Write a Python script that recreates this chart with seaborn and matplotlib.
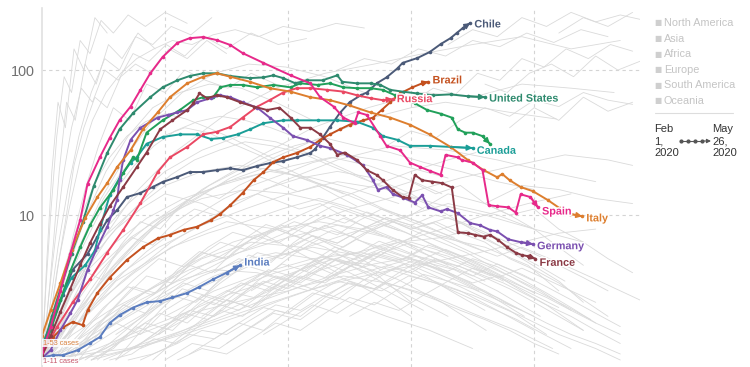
import matplotlib
matplotlib.use("Agg")
import matplotlib.pyplot as plt
import matplotlib.patheffects as pe
from matplotlib.lines import Line2D
from matplotlib.ticker import NullLocator
import pandas as pd
import seaborn as sns

sns.set_theme(style="white")
plt.rcParams["font.family"] = ["Liberation Sans", "DejaVu Sans"]

# x: position along the trajectory (arbitrary units, no tick labels)
# y: new daily cases per million (log scale)
spain_x = [0, 7, 15, 23, 31, 37, 47, 55, 63, 72, 80, 88, 98, 110, 120, 131, 142, 153, 163, 180, 202, 218, 226,
           237, 245, 254, 257, 264, 275, 280, 291, 299, 307, 315, 324, 328, 338, 341, 350, 358, 363, 370, 379, 385,
           389, 397, 403]
spain_y = [1.13, 1.68, 3.0, 5.4, 9.2, 16.4, 25, 34, 45, 56, 73, 95, 123, 154, 166, 169, 161, 149, 131, 112, 92, 81,
           65, 56, 47, 43, 51, 49, 35, 30, 28, 23, 21.5, 20.2, 18.9, 26, 25, 24, 23, 20.4, 11.7, 11.5, 11.3, 10.4,
           13.9, 13.3, 11.3]

italy_x = [0, 7, 15, 24, 35, 45, 53, 61, 72, 82, 94, 104, 118, 131, 142, 153, 169, 185, 202, 218, 234, 250, 267,
           283, 299, 315, 332, 346, 359, 370, 374, 380, 389, 399, 411, 421, 429, 439]
italy_y = [1.47, 2.2, 3.4, 5.7, 9.5, 13.3, 16.6, 21.4, 28, 39, 51, 65, 81, 90, 95, 90, 83, 75, 71, 65, 62, 57, 51,
           47, 42, 36, 29.5, 24, 20.4, 18.2, 19.2, 17.4, 15.6, 14.6, 12.7, 11.1, 10.2, 9.8]

us_x = [0, 8, 16, 24, 33, 42, 53, 63, 74, 88, 98, 110, 120, 131, 142, 153, 169, 180, 188, 196, 206, 215, 228, 240,
        244, 256, 267, 275, 283, 293, 305, 318, 332, 346, 360]
us_y = [1.17, 2.0, 3.3, 5.4, 8.9, 15.8, 26.8, 39, 50.5, 65, 76, 85, 91, 95, 95, 91, 88, 89, 92, 88, 81, 85, 85, 92,
        83, 81, 81, 79, 73, 71, 69, 67, 68, 66, 65]

uk_x = [0, 7, 15, 23, 31, 39, 47, 58, 66, 74, 77, 85, 98, 112, 123, 131, 139, 145, 153, 163, 175, 188, 202, 210,
        224, 234, 245, 256, 267, 277, 287, 295, 303, 313, 324, 333, 338, 344, 350, 358, 364]
uk_y = [1.13, 1.61, 2.6, 4.1, 6.0, 8.5, 11.2, 14.9, 19.5, 25, 24, 37, 45, 53, 62, 65, 65, 76, 79, 79, 76, 79, 76,
        81, 79, 81, 76, 75, 75, 73, 67, 62, 59, 53, 50, 47, 39, 37, 37, 35, 31]

canada_x = [0, 7, 15, 24, 35, 43, 47, 55, 63, 72, 77, 85, 98, 112, 126, 137, 147, 159, 169, 180, 196, 207, 224,
            240, 256, 269, 277, 289, 299, 315, 332, 350]
canada_y = [1.27, 1.74, 2.6, 3.7, 4.5, 5.7, 7.9, 13.7, 18, 23, 25, 31, 34.5, 36, 36, 33.5, 34, 36, 39, 43, 45, 45,
            45, 45, 44, 40, 35, 33, 30, 30, 29.5, 29]

germany_x = [0, 7, 15, 23, 29, 37, 45, 53, 58, 61, 63, 66, 72, 80, 94, 102, 110, 118, 126, 137, 145, 153, 163, 175,
             185, 196, 204, 215, 226, 234, 248, 261, 269, 273, 280, 285, 293, 303, 309, 314, 324, 329, 338, 348,
             356, 364, 370, 379, 389, 399]
germany_y = [1.03, 1.17, 1.61, 2.1, 2.6, 4.2, 6.0, 8.3, 10.8, 12.7, 17.4, 24, 33, 40, 47, 49, 51, 53, 60, 64, 67,
             65, 60, 55, 47, 40, 35, 33, 30, 29, 26, 22, 17.4, 14.9, 15.6, 14, 13.2, 12.2, 13.7, 11.3, 10.6, 11,
             10.3, 8.8, 8.5, 7.9, 7.7, 6.8, 6.5, 6.3]

france_x = [0, 7, 15, 23, 31, 39, 47, 55, 66, 77, 85, 96, 106, 118, 123, 128, 134, 142, 150, 161, 172, 183, 193,
            202, 210, 218, 226, 234, 240, 246, 256, 264, 272, 277, 285, 293, 298, 303, 309, 317, 325, 333, 338,
            346, 352, 359, 364, 371, 378, 385, 390, 395, 401]
france_y = [1.07, 1.47, 2.15, 3.1, 4.5, 6.4, 8.7, 11.5, 15.6, 21.4, 27, 39, 45, 53, 59, 69, 64, 67, 65, 60, 56, 53,
            55, 47, 40, 40, 36, 31, 26, 27, 24, 20.4, 18.9, 17.4, 14.9, 13.3, 13.1, 18.9, 17.4, 17, 16.6, 15.5, 7.6,
            7.5, 7.3, 7.1, 7.3, 6.7, 6.0, 5.5, 5.3, 5.2, 5.0]

russia_x = [0, 12, 25, 39, 53, 66, 80, 94, 104, 118, 131, 142, 153, 163, 175, 185, 196, 207, 218, 232, 245, 256,
            267, 277, 285]
russia_y = [1.08, 1.68, 2.5, 3.6, 5.5, 7.9, 12.1, 19.8, 25, 29.5, 36, 37.5, 40.5, 47, 56, 62, 70, 75, 75, 73, 71,
            67, 64, 62, 63]

chile_x = [0, 8, 17, 25, 37, 45, 53, 61, 69, 80, 90, 98, 110, 120, 131, 142, 153, 163, 175, 185, 196, 207, 218,
           222, 228, 234, 242, 250, 259, 264, 272, 280, 289, 293, 305, 315, 324, 332, 337, 342, 348]
chile_y = [1.07, 1.74, 2.8, 4.2, 5.4, 7.1, 9.2, 10.8, 13.3, 14.2, 15.6, 16.9, 18.3, 19.8, 19.8, 20.4, 21, 20.4,
           21.8, 22.8, 23.6, 25, 26.8, 28.5, 34, 40.5, 50.5, 60, 67, 70, 81, 89, 103, 112, 121, 133, 151, 166, 180,
           195, 211]

brazil_x = [0, 9, 17, 25, 33, 37, 45, 55, 69, 82, 94, 104, 115, 126, 137, 145, 153, 163, 172, 180, 188, 196, 207,
            218, 226, 234, 242, 250, 261, 269, 276, 283, 291, 301, 309, 314]
brazil_y = [1.27, 1.44, 1.68, 1.83, 1.74, 2.2, 2.9, 3.7, 4.9, 6.0, 6.9, 7.3, 7.9, 8.3, 9.2, 10.2, 11.7, 14.2, 17.4,
            19.8, 23.2, 25, 26.8, 29.5, 33, 36, 39, 42, 45, 47, 53, 60, 69, 76, 81, 83]

india_x = [2, 9, 17, 29, 39, 47, 55, 63, 74, 85, 96, 106, 118, 128, 139, 150, 161]
india_y = [1.05, 1.08, 1.08, 1.17, 1.31, 1.44, 1.8, 2.04, 2.3, 2.5, 2.55, 2.7, 2.9, 3.2, 3.6, 4.0, 4.5]

# all other countries, drawn in light grey
gray_x = [
    [0, 4, 9, 14, 20, 27, 35, 44, 54, 65, 78, 92],
    [0, 3, 7, 12, 18, 24, 31, 39, 48, 58, 70, 84, 100, 118],
    [0, 6, 12, 19, 26, 34, 43, 53, 64, 76, 89, 103, 118, 134, 150],
    [0, 5, 11, 17, 24, 32, 41, 51, 62, 74, 87, 101, 116, 132, 150, 170, 192, 215],
    [0, 8, 16, 25, 35, 46, 58, 71, 85, 100, 116, 133, 151, 170, 190],
    [0, 4, 8, 13, 19, 26, 34, 43, 53],
    [0, 7, 14, 22, 31, 41, 52, 64, 77, 91, 106, 122, 139, 157, 176, 196, 217, 239, 262],
    [0, 6, 13, 21, 30, 40, 51, 63, 76, 90, 105, 121, 138],
    [0, 10, 21, 33, 46, 60, 75, 91, 108, 126, 145, 165, 186, 208, 231, 255],
    [0, 12, 25, 39, 54, 70, 87, 105, 124, 144, 165, 187, 210, 234, 259, 285, 312],
    [5, 18, 32, 47, 63, 80, 98, 117, 137, 158, 180, 203, 227, 252, 278, 305, 333, 362],
    [0, 9, 19, 30, 42, 55, 69, 84, 100, 117, 135, 154, 174, 195],
    [0, 15, 31, 48, 66, 85, 105, 126, 148, 171, 195, 220, 246, 273, 301, 330],
    [10, 25, 41, 58, 76, 95, 115, 136, 158, 181, 205, 230, 256, 283, 311, 340, 370, 400],
    [0, 11, 23, 36, 50, 65, 81, 98, 116, 135, 155, 176, 198, 221, 245],
    [0, 13, 27, 42, 58, 75, 93, 112, 132, 153, 175, 198, 222, 247, 273, 300, 328, 357, 387, 418],
    [20, 40, 60, 80, 100, 120, 140, 160, 180, 200, 220, 240, 260, 280, 300],
    [30, 52, 74, 96, 118, 140, 162, 184, 206, 228, 250, 272, 294, 316, 338, 360],
    [10, 30, 50, 70, 90, 110, 130, 150, 170, 190, 210, 230, 250, 270, 290, 310, 330],
    [40, 62, 84, 106, 128, 150, 172, 194, 216, 238, 260, 282, 304, 326, 348, 370, 392],
    [60, 80, 100, 120, 140, 160, 180, 200, 220, 240, 260, 280, 300, 320, 340, 360, 380, 400, 420],
    [25, 45, 65, 85, 105, 125, 145, 165, 185, 205, 225, 245, 265, 285, 305],
    [50, 72, 94, 116, 138, 160, 182, 204, 226, 248, 270, 292, 314, 336, 358, 380, 402, 424, 446],
    [15, 35, 55, 75, 95, 115, 135, 155, 175, 195, 215, 235, 255, 275],
    [80, 100, 120, 140, 160, 180, 200, 220, 240, 260, 280, 300, 320, 340, 360, 380, 400],
    [35, 55, 75, 95, 115, 135, 155, 175, 195, 215, 235, 255, 275, 295, 315, 335, 355, 375],
    [100, 122, 144, 166, 188, 210, 232, 254, 276, 298, 320, 342, 364, 386, 408, 430],
    [5, 22, 39, 56, 73, 90, 107, 124, 141, 158, 175, 192, 209, 226, 243, 260, 277],
    [45, 65, 85, 105, 125, 145, 165, 185, 205, 225, 245, 265, 285, 305, 325, 345, 365, 385, 405, 425],
    [70, 90, 110, 130, 150, 170, 190, 210, 230, 250, 270, 290, 310, 330, 350, 370, 390, 410, 430, 450],
    [120, 140, 160, 180, 200, 220, 240, 260, 280, 300, 320, 340, 360, 380, 400, 420, 440],
    [30, 48, 66, 84, 102, 120, 138, 156, 174, 192, 210, 228, 246, 264, 282, 300, 318, 336],
    [90, 110, 130, 150, 170, 190, 210, 230, 250, 270, 290, 310, 330, 350, 370, 390],
    [150, 170, 190, 210, 230, 250, 270, 290, 310, 330, 350, 370, 390, 410, 430, 450, 470],
    [60, 78, 96, 114, 132, 150, 168, 186, 204, 222, 240, 258, 276, 294, 312, 330, 348, 366, 384],
    [0, 16, 32, 48, 64, 80, 96, 112, 128, 144, 160, 176, 192, 208, 224, 240, 256],
    [110, 130, 150, 170, 190, 210, 230, 250, 270, 290, 310, 330, 350, 370, 390, 410, 430, 450, 470],
    [40, 58, 76, 94, 112, 130, 148, 166, 184, 202, 220, 238, 256, 274, 292, 310, 328, 346, 364, 382, 400],
    [130, 150, 170, 190, 210, 230, 250, 270, 290, 310, 330, 350, 370, 390, 410, 430, 450],
    [20, 38, 56, 74, 92, 110, 128, 146, 164, 182, 200, 218, 236, 254, 272, 290],
    [170, 190, 210, 230, 250, 270, 290, 310, 330, 350, 370, 390, 410, 430, 450, 470, 490],
    [200, 220, 240, 260, 280, 300, 320, 340, 360, 380, 400, 420, 440, 460],
    [140, 160, 180, 200, 220, 240, 260, 280, 300, 320, 340, 360, 380, 400],
    [55, 73, 91, 109, 127, 145, 163, 181, 199, 217, 235, 253, 271, 289, 307, 325, 343, 361],
    [250, 270, 290, 310, 330, 350, 370, 390, 410, 430, 450, 470],
    [180, 200, 220, 240, 260, 280, 300, 320, 340, 360, 380, 400, 420],
    [75, 95, 115, 135, 155, 175, 195, 215, 235, 255, 275, 295, 315, 335, 355],
    [95, 115, 135, 155, 175, 195, 215, 235, 255, 275, 295, 315, 335],
    [300, 318, 336, 354, 372, 390, 408, 426, 444, 462, 480],
    [330, 350, 370, 390, 410, 430, 450, 470, 490],
    [280, 300, 320, 340, 360, 380, 400, 420, 440, 460, 480],
    [360, 378, 396, 414, 432, 450, 468, 486],
    [240, 262, 284, 306, 328, 350, 372, 394, 416, 438, 460],
    [380, 400, 420, 440, 460, 480],
    [420, 440, 460, 480],
    [300, 320, 340, 360, 380, 400, 420, 440, 460],
    [330, 350, 370, 390, 410, 430, 450, 470],
    [360, 380, 400, 420, 440, 460, 480],
    [280, 300, 320, 340, 360, 380, 400, 420, 440],
    [0, 10, 25, 40, 60, 80, 100, 130, 160, 200, 240],
    [0, 15, 35, 60, 90, 120, 150, 190, 230, 270, 300],
    [0, 20, 45, 70, 100, 130, 170, 210, 250, 290, 330],
    [0, 25, 55, 85, 120, 160, 200, 240, 280, 320, 360],
    [0, 30, 60, 95, 130, 170, 210, 250, 290, 330, 370, 400],
    [0, 20, 40, 65, 90, 120, 150, 185, 220, 255, 290],
    [5, 30, 60, 90, 120, 150, 180, 210, 240, 270, 300, 330, 360],
    [10, 40, 70, 100, 130, 160, 190, 220, 250, 280, 310],
    [0, 10, 25, 45, 70, 100, 130, 160, 190, 220, 250, 280, 310],
    [0, 12, 28, 48, 72, 100, 130, 165, 200, 235, 270, 305, 340, 375],
    [15, 45, 80, 115, 150, 185, 220, 255, 290, 325, 360, 395, 420],
    [20, 55, 90, 125, 160, 195, 230, 265, 300, 335, 370, 405],
    [0, 20, 45, 75, 105, 135, 165, 195, 225, 255, 285, 315, 345, 375, 405, 430],
    [30, 60, 95, 130, 165, 200, 235, 270, 305, 340, 375, 410, 440],
    [0, 15, 35, 60, 85, 115, 145, 175, 205, 235, 265, 295, 325],
    [0, 10, 22, 36, 52, 70, 90, 112, 136, 162, 190, 220],
    [0, 20, 45, 75, 110, 150, 190, 230, 270, 310, 350, 390, 430, 470],
    [0, 25, 55, 90, 130, 175, 220, 265, 310, 350, 390, 430, 465],
    [0, 30, 65, 105, 150, 195, 240, 285, 330, 370, 410, 450],
    [10, 40, 75, 115, 160, 205, 250, 295, 340, 385, 425, 460, 480],
    [150, 190, 230, 270, 310, 350, 390, 420, 450, 470],
    [100, 140, 180, 220, 260, 300, 340, 380, 410],
    [60, 100, 140, 180, 220, 260, 300, 340, 370, 400],
    [20, 50, 85, 120, 155, 190, 225, 260, 295, 330, 365],
    [0, 15, 30, 50, 75, 100, 130, 160, 195, 230, 265, 300, 335],
    [0, 18, 40, 65, 95, 130, 165, 200, 240, 280, 320, 360, 400, 440],
    [0, 14, 30, 48, 68, 90, 114, 140, 168, 198, 230, 262],
    [40, 75, 110, 145, 180, 215, 250, 285, 320, 355, 390, 420, 450],
    [80, 115, 150, 185, 220, 255, 290, 325, 360, 395, 430],
    [0, 25, 50, 80, 110, 140, 175, 210, 245, 280, 315, 350],
    [0, 35, 70, 105, 140, 175, 210, 245, 280, 315, 350, 385, 415],
    [270, 300, 330, 360, 390, 420, 450, 480],
    [180, 210, 240, 270, 300, 330, 360, 390, 420, 440],
]
gray_y = [
    [1, 2, 6, 20, 60, 45, 110, 80, 150, 120, 180, 140],
    [1, 3, 10, 35, 90, 70, 160, 130, 220, 180, 240, 200, 250, 210],
    [1, 1.8, 4, 9, 22, 40, 65, 55, 90, 110, 95, 140, 120, 160, 130],
    [1, 2.5, 7, 18, 40, 75, 60, 100, 85, 130, 115, 150, 125, 170, 140, 180, 150, 165],
    [1, 1.5, 3, 7, 15, 30, 55, 45, 80, 70, 100, 85, 75, 95, 80],
    [1, 5, 20, 60, 40, 140, 100, 230, 180],
    [1, 2, 5, 11, 24, 45, 70, 95, 120, 140, 160, 150, 175, 190, 170, 200, 185, 210, 195],
    [1, 2.2, 6, 15, 35, 70, 120, 100, 170, 150, 200, 175, 230],
    [1, 1.8, 3.5, 6, 10, 15, 22, 30, 38, 44, 48, 45, 40, 34, 29, 24],
    [1, 1.5, 2.6, 4.5, 7, 10, 14, 19, 24, 28, 32, 30, 27, 22, 18, 15, 12],
    [1, 1.4, 2.2, 3.5, 5, 7, 9.5, 12, 15, 18, 21, 19, 16, 14, 11, 9, 7, 5.5],
    [1, 2.2, 4.5, 9, 16, 25, 35, 44, 50, 46, 40, 34, 28, 23],
    [1, 1.3, 1.9, 2.8, 4, 5.6, 7.5, 10, 13, 16, 19, 23, 26, 24, 21, 18],
    [1, 1.6, 2.6, 4.2, 6.5, 9, 12, 16, 20, 25, 30, 34, 30, 27, 23, 20, 17, 15],
    [1, 2, 4, 7.5, 13, 20, 28, 35, 40, 37, 31, 26, 21, 17, 14],
    [1, 1.4, 2, 3, 4.4, 6.2, 8.5, 11, 14, 18, 22, 27, 33, 40, 48, 55, 60, 55, 50, 46],
    [1, 1.4, 1.8, 1.5, 2.2, 2.8, 2.4, 3.2, 4, 3.5, 4.5, 3.8, 3.2, 2.6, 2],
    [1, 1.2, 1.6, 2.1, 1.8, 2.6, 3.4, 3, 4, 5.2, 4.5, 3.8, 4.6, 3.6, 2.8, 2.2],
    [1, 1.5, 2.3, 3.2, 2.8, 4, 5.5, 5, 6.8, 8, 7, 8.5, 7.2, 6, 6.8, 5.5, 4.5],
    [1, 1.3, 1.8, 1.6, 2.4, 3, 2.7, 3.6, 4.4, 5.4, 4.8, 6, 5.2, 4.2, 3.4, 2.6, 2],
    [1, 1.3, 1.7, 2.2, 2, 2.7, 3.5, 3.1, 4, 5, 4.4, 5.6, 6.5, 5.8, 5, 4.2, 3.4, 2.8, 2.3],
    [1, 1.7, 2.6, 3.8, 3.4, 5, 6.5, 5.8, 7.5, 9, 8, 9.5, 8.2, 7, 6],
    [1, 1.2, 1.5, 1.9, 2.5, 2.2, 3, 3.8, 3.4, 4.3, 5.5, 4.9, 6.2, 5.4, 4.6, 3.8, 3, 2.4, 1.9],
    [1, 1.6, 2.5, 3.6, 5, 4.4, 6, 7.6, 6.8, 8.5, 7.5, 6.2, 5.2, 4.2],
    [1, 1.2, 1.5, 1.4, 1.8, 2.3, 2.1, 2.8, 3.5, 3.2, 4, 4.8, 4.3, 3.6, 3, 2.4, 2],
    [1, 1.3, 1.8, 2.5, 3.4, 3, 4.2, 5.5, 5, 6.4, 7.8, 7, 8.6, 7.6, 6.4, 5.4, 4.5, 3.7],
    [1, 1.3, 1.2, 1.6, 2.1, 1.9, 2.6, 3.3, 3, 3.8, 3.4, 2.8, 2.3, 1.9, 1.5, 1.2],
    [1, 1.8, 3, 4.8, 7, 6.2, 8.8, 11, 10, 12.5, 14, 12.5, 11, 12, 10, 8.5, 7.2],
    [1, 1.4, 2, 2.8, 2.5, 3.4, 4.5, 4, 5.4, 6.8, 6, 7.6, 9, 8, 7, 7.8, 6.5, 5.4, 4.4, 3.5],
    [1, 1.1, 1.3, 1.6, 1.5, 1.9, 2.4, 2.2, 2.8, 3.4, 3.1, 3.8, 4.6, 4.1, 5, 4.4, 3.6, 2.9, 2.3, 1.8],
    [1.1, 1.4, 1.8, 1.6, 2.2, 2.9, 2.6, 3.5, 4.4, 4, 5, 4.4, 3.7, 3.1, 2.5, 2, 1.6],
    [1, 1.6, 2.4, 2.1, 3.2, 4.5, 4, 5.6, 7.2, 6.4, 8, 9.8, 8.8, 10.5, 9.2, 8, 8.8, 7.4],
    [1, 1.4, 1.9, 2.6, 2.3, 3.2, 4.2, 3.7, 4.8, 6, 5.3, 4.6, 3.9, 3.2, 2.7, 2.2],
    [1.3, 1.7, 2.2, 2, 2.7, 3.5, 3.1, 4, 5, 4.4, 3.8, 4.6, 3.9, 3.2, 2.6, 2.1, 1.7],
    [1, 1.5, 2.2, 3.1, 2.8, 4, 5.3, 4.7, 6.4, 8.2, 7.3, 9.2, 11, 9.8, 8.6, 9.6, 8.2, 7, 5.8],
    [1, 2.2, 4.2, 3.6, 6.2, 9, 8, 11.5, 14.5, 13, 16, 18.5, 16.5, 14.5, 16, 13.5, 11.5],
    [1, 1.2, 1.1, 1.4, 1.8, 1.6, 2.1, 2.7, 2.4, 3.1, 3.9, 3.5, 4.3, 3.8, 3.2, 2.7, 2.2, 1.8, 1.5],
    [1, 1.2, 1.7, 1.5, 2.1, 2.8, 2.5, 3.3, 4.2, 3.8, 4.8, 6, 5.4, 6.6, 5.8, 5, 5.8, 5, 4.2, 3.5, 2.9],
    [2, 2.6, 2.3, 3, 3.8, 3.4, 4.4, 5.4, 4.8, 5.8, 5.2, 4.4, 3.7, 4.3, 3.6, 3, 2.5],
    [1, 1.5, 2.2, 3.2, 2.9, 4.2, 5.6, 5, 6.8, 8.6, 7.7, 9.5, 11.5, 10.2, 9, 7.8],
    [3, 3.8, 3.4, 4.4, 5.6, 5, 6.3, 7.8, 7, 6, 5.2, 6, 5.1, 4.3, 3.6, 3, 2.5],
    [6, 7.2, 6.4, 8, 9.6, 8.5, 10, 9, 7.6, 6.4, 5.4, 4.5, 3.7, 3],
    [4, 5, 4.5, 5.8, 7.2, 6.4, 8, 9.6, 8.5, 7.2, 6, 5, 4.2, 3.5],
    [1, 1.1, 1.4, 1.3, 1.7, 2.2, 2, 2.6, 3.3, 3, 3.8, 4.6, 4.1, 3.6, 3, 2.5, 2, 1.6],
    [2, 2.5, 2.2, 2.8, 3.5, 3.1, 2.6, 2.2, 1.8, 1.5, 1.3, 1.1],
    [1.5, 1.9, 2.4, 2.1, 2.7, 3.4, 3, 2.6, 2.2, 1.9, 1.6, 1.3, 1.1],
    [1.2, 1.6, 2.1, 1.9, 2.6, 3.4, 3, 3.9, 5, 4.5, 5.6, 4.9, 4.2, 3.6, 3],
    [1.5, 2, 2.8, 2.5, 3.5, 4.6, 4.1, 5.4, 6.8, 6, 5.2, 4.5, 3.8],
    [60, 75, 68, 95, 85, 120, 105, 140, 120, 150, 135],
    [150, 190, 170, 230, 200, 250, 215, 240, 220],
    [30, 38, 34, 45, 55, 48, 62, 56, 70, 62, 58],
    [80, 70, 95, 110, 90, 125, 100, 115],
    [100, 120, 110, 140, 125, 160, 145, 180, 155, 190, 170],
    [40, 55, 45, 65, 52, 60],
    [180, 230, 200, 250],
    [8, 9, 7.5, 6.5, 5, 4.2, 3.4, 2.6, 2],
    [4, 3.4, 3.8, 3, 2.4, 2, 1.6, 1.3],
    [12, 10, 11, 8, 6.5, 5, 4],
    [15, 17, 14, 16, 12, 10, 8, 6, 4.5],
    [1, 1.5, 3, 5, 8, 11, 14, 12, 9, 6, 4],
    [1, 1.3, 2, 3.5, 5, 7, 9, 8, 6, 4, 2.5],
    [1, 1.2, 1.8, 2.5, 3.5, 5, 6.5, 6, 4.5, 3, 2],
    [1, 1.5, 2.2, 3, 4.2, 5.5, 7, 8.5, 7, 5, 3.5],
    [1, 1.1, 1.6, 2.4, 3.2, 4.5, 5.8, 7.5, 9.5, 12, 10, 8],
    [1, 2, 3.5, 6, 9, 13, 17, 20, 18, 15, 12],
    [1, 1.3, 1.9, 2.8, 4, 5.5, 7.5, 10, 13, 16, 20, 24, 28],
    [1, 1.4, 2, 2.8, 3.8, 4.8, 5.5, 5, 4, 3, 2.2],
    [1, 1.8, 3.5, 7, 12, 20, 28, 35, 32, 26, 20, 15, 11],
    [1, 1.6, 2.8, 4.5, 7, 10, 13, 15, 14, 12, 9.5, 7, 5, 3.5],
    [1, 1.2, 1.6, 2.1, 2.8, 3.5, 4.5, 5.5, 6.5, 7, 6, 4.5, 3],
    [1, 1.1, 1.3, 1.6, 2, 2.6, 3.3, 4.1, 5, 4.2, 3, 2],
    [1, 1.5, 2.5, 4, 6, 7.5, 9, 11, 13, 11, 9, 7, 5.5, 4, 3, 2.2],
    [1, 1.3, 1.7, 2.2, 2.6, 3, 3.8, 4.6, 5.2, 4.4, 3.4, 2.4, 1.6],
    [1, 2.2, 4, 6.5, 9.5, 13, 16, 19, 22, 25, 22, 18, 14],
    [1, 2, 4.5, 10, 20, 35, 55, 70, 80, 75, 60, 45],
    [1, 2.5, 6, 14, 28, 50, 75, 95, 110, 130, 150, 170, 140, 160],
    [1, 2, 4, 8, 15, 25, 40, 55, 70, 65, 80, 75, 70],
    [1, 1.8, 3.5, 6.5, 11, 17, 24, 30, 28, 24, 20, 17],
    [1, 1.4, 2.2, 3.5, 5.5, 8, 11, 14, 18, 22, 26, 24, 22],
    [3, 4, 5, 4.5, 3.6, 2.8, 2, 1.5, 1.2, 1],
    [2, 3, 4, 5, 5.5, 4.5, 3.2, 2.2, 1.5],
    [1.5, 2.5, 3.8, 5, 6, 5.2, 4, 3, 2.2, 1.6],
    [1, 1.8, 3, 4.6, 6.5, 8, 9, 8, 6.5, 5, 3.8],
    [1, 2, 3.8, 7, 11, 16, 20, 22, 20, 16, 12, 9, 7],
    [1, 1.6, 2.6, 4, 6, 8.5, 11, 14, 17, 15, 12, 10, 8, 6.5],
    [1, 2.5, 6, 13, 25, 45, 70, 95, 110, 105, 90, 70],
    [1, 1.2, 1.5, 1.9, 2.4, 3, 3.6, 4.2, 4.8, 5.5, 6.5, 7.5, 8],
    [1.2, 1.6, 2.2, 3, 4, 5, 6.5, 8, 10, 12, 14],
    [1, 1.3, 1.8, 2.6, 3.5, 4.2, 4, 3.3, 2.6, 2, 1.6, 1.2],
    [1, 1.1, 1.2, 1.5, 1.9, 2.5, 3.2, 3.8, 3.4, 2.8, 2.1, 1.6, 1.2],
    [8, 10, 14, 12, 16, 15, 13, 12],
    [15, 18, 20, 18, 14, 10, 7, 5, 3.5, 2.5],
]

continents = ["North America", "Asia", "Africa", "Europe", "South America", "Oceania"]
start_date = "Feb\n1,\n2020"
end_date = "May\n26,\n2020"

# name, x, y, colour, label shown, label vertical offset (points)
highlight = [
    ("India", india_x, india_y, "#5b7dbf", True, 2),
    ("Chile", chile_x, chile_y, "#4b5a78", True, -1),
    ("Brazil", brazil_x, brazil_y, "#c4511f", True, 1),
    ("Canada", canada_x, canada_y, "#1b9e97", True, -2),
    ("United Kingdom", uk_x, uk_y, "#21a05a", False, 0),
    ("United States", us_x, us_y, "#2e8a6e", True, -1),
    ("Russia", russia_x, russia_y, "#ea4863", True, 0),
    ("Germany", germany_x, germany_y, "#7b50b0", True, -1.5),
    ("France", france_x, france_y, "#8b3a45", True, -3),
    ("Italy", italy_x, italy_y, "#dd7e2e", True, -1.5),
    ("Spain", spain_x, spain_y, "#e7298a", True, -3),
]

bg = pd.DataFrame([(i, x, y) for i, (xs, ys) in enumerate(zip(gray_x, gray_y)) for x, y in zip(xs, ys)],
                  columns=["line", "x", "y"])
hl = pd.DataFrame([(name, x, y) for name, xs, ys, *_ in highlight for x, y in zip(xs, ys)],
                  columns=["country", "x", "y"])
palette = {h[0]: h[3] for h in highlight}

fig = plt.figure(figsize=(7.5, 3.67), dpi=100)
ax = fig.add_axes([42 / 750, 0, 598 / 750, 359 / 367])

sns.lineplot(data=bg, x="x", y="y", units="line", estimator=None, sort=False, color="#dadada", lw=0.6,
             ax=ax, legend=False)
sns.lineplot(data=hl, x="x", y="y", hue="country", hue_order=[h[0] for h in highlight], palette=palette,
             estimator=None, sort=False, marker="o", markersize=2.6, markeredgewidth=0, lw=1.4, ax=ax,
             legend=False)

ax.set_yscale("log")
ax.set_xlim(0, 486)
ax.set_ylim(0.895, 268)
ax.set_yticks([10, 100])
ax.set_yticklabels(["10", "100"])
ax.yaxis.set_minor_locator(NullLocator())
ax.set_xticks([100, 200, 300, 400])
ax.set_xticklabels([])
ax.tick_params(axis="x", length=0)
ax.tick_params(axis="y", length=0, labelsize=10.4, labelcolor="#707070", pad=5)
ax.grid(True, ls=(0, (3, 3)), color="#d4d4d4", lw=0.8)
ax.set_xlabel("")
ax.set_ylabel("")
for s in ["top", "right", "bottom"]:
    ax.spines[s].set_visible(False)
ax.spines["left"].set_color("#e2e2e2")

halo = [pe.withStroke(linewidth=2.2, foreground="white")]
for name, xs, ys, c, show, dy in highlight:
    ax.annotate("", xy=(xs[-1], ys[-1]), xytext=(xs[-2], ys[-2]),
                arrowprops=dict(arrowstyle="-|>", color=c, lw=1.2, shrinkA=0, shrinkB=0, mutation_scale=8))
    if show:
        ax.annotate(name, xy=(xs[-1], ys[-1]), xytext=(3, dy), textcoords="offset points", color=c,
                    fontsize=7.8, fontweight="bold", va="center", ha="left", path_effects=halo)

ax.text(0.5, 1.31, "1-53 cases", fontsize=5.3, color="#d9823f", va="center",
        bbox=dict(fc="white", ec="none", alpha=0.85, pad=0.4))
ax.text(0.5, 0.98, "1-11 cases", fontsize=5.3, color="#c75a6e", va="center",
        bbox=dict(fc="white", ec="none", alpha=0.85, pad=0.4))

# legend on the right
for i, cont in enumerate(continents):
    yy = 1 - (23 + i * 15.6) / 367
    fig.text(654 / 750, yy, "\u25a0", fontsize=5.5, color="#cfcfcf", va="center", ha="left",
             family="DejaVu Sans")
    fig.text(664 / 750, yy, cont, fontsize=7.8, color="#c4c4c4", va="center", ha="left")
fig.add_artist(Line2D([655 / 750, 733 / 750], [1 - 113 / 367] * 2, color="#dddddd", lw=0.8,
                      transform=fig.transFigure))
fig.text(654 / 750, 1 - 141 / 367, start_date, fontsize=8, color="#333333", va="center", ha="left",
         linespacing=1.2)
fig.text(712 / 750, 1 - 141 / 367, end_date, fontsize=8, color="#333333", va="center", ha="left",
         linespacing=1.2)
fig.add_artist(Line2D([681 / 750, 688 / 750, 695 / 750, 702 / 750], [1 - 141 / 367] * 4, color="#555555",
                      lw=0.8, marker="o", markersize=2, transform=fig.transFigure))
ax.annotate("", xy=(711 / 750, 1 - 141 / 367), xytext=(702 / 750, 1 - 141 / 367), xycoords="figure fraction",
            arrowprops=dict(arrowstyle="-|>", color="#555555", lw=0.8, shrinkA=0, shrinkB=0, mutation_scale=6),
            annotation_clip=False)

fig.savefig("out.png", dpi=100)
